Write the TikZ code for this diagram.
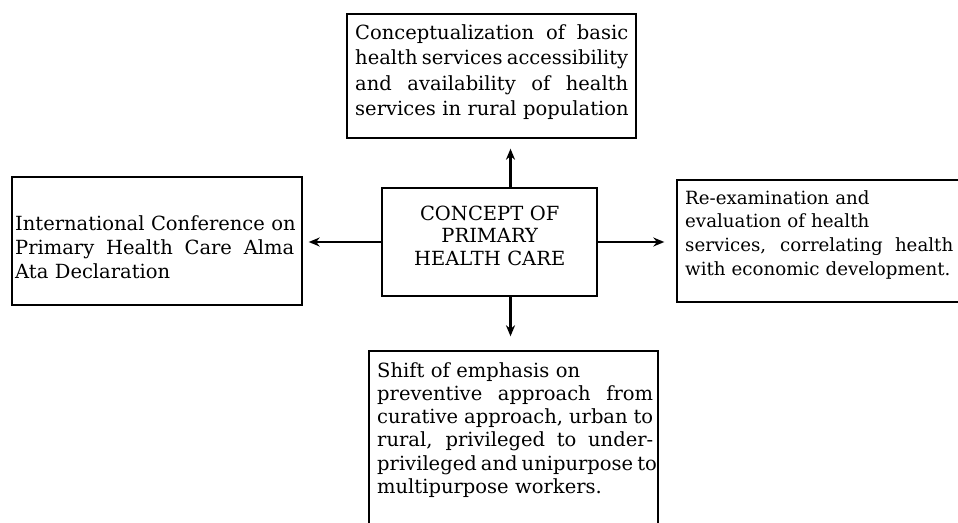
\documentclass[tikz,border=0pt]{standalone}
\usepackage{fontspec}
\setmainfont{DejaVu Serif}
\usetikzlibrary{arrows.meta,calc}
\newlength{\jw}
\newcommand{\jline}[1]{\makebox[\jw][s]{\spaceskip=0pt\xspaceskip=0pt #1}}
\begin{document}
\begin{tikzpicture}[x=1pt,y=-1pt,
  box/.style={draw, line width=1.4pt, inner sep=0pt},
  txt/.style={inner sep=0pt, anchor=base west, align=left, text width=320pt},
  arr/.style={line width=2.2pt, -{Stealth[length=11pt,width=9pt]}}]
\useasboundingbox (0,0) rectangle (958,522);
\clip (0,0) rectangle (958,522);
\fill[white] (0,0) rectangle (958,522);
% boxes
\node[box, minimum width=289pt, minimum height=124pt] (top) at (491.5,76) {};
\node[box, minimum width=215pt, minimum height=108pt] (c) at (489.5,242) {};
\node[box, minimum width=290pt, minimum height=128pt] (left) at (157,241) {};
\node[box, minimum width=323pt, minimum height=122pt] (right) at (838.5,241) {};
\node[box, minimum width=289pt, minimum height=189pt] (bottom) at (513.5,445.5) {};
% texts
\node[txt, font=\fontsize{19.5}{25.5}\selectfont] (toptxt) at (355,39) {\setlength{\jw}{273pt}%
\jline{Conceptualization of basic}\\
\jline{health services accessibility}\\
\jline{and availability of health}\\
services in rural population};
\node[txt, text width=215pt, align=center, font=\fontsize{19.5}{22.5}\selectfont] (ctxt) at (382,220) {CONCEPT OF\\ PRIMARY\\ HEALTH CARE};
\node[txt, font=\fontsize{19.5}{24}\selectfont] (lefttxt) at (15,230) {\setlength{\jw}{279pt}%
International Conference on\\
\jline{Primary Health Care Alma}\\
Ata Declaration};
\node[txt, font=\fontsize{18.2}{23.7}\selectfont] (righttxt) at (685,204) {\setlength{\jw}{268pt}%
Re-examination and\\
evaluation of health\\
\jline{services, correlating health}\\
with economic development.};
\node[txt, font=\fontsize{19.5}{23.3}\selectfont] (bottomtxt) at (377,377) {\setlength{\jw}{276pt}%
Shift of emphasis on\\
\jline{preventive approach from}\\
\jline{curative approach, urban to}\\
\jline{rural, privileged to under-}\\
\jline{privileged and unipurpose to}\\
multipurpose workers.};
% connectors
\coordinate (vx) at (510.5,0);
\draw[arr, shorten >=10pt] (c.north -| vx) -- (top.south -| vx);
\draw[arr, shorten >=14pt] (c.south -| vx) -- (bottom.north -| vx);
\draw[arr, shorten >=6pt] (c.west) -- (left.east |- c.west);
\draw[arr, shorten >=12pt] (c.east) -- (right.west |- c.east);
\end{tikzpicture}
\end{document}
